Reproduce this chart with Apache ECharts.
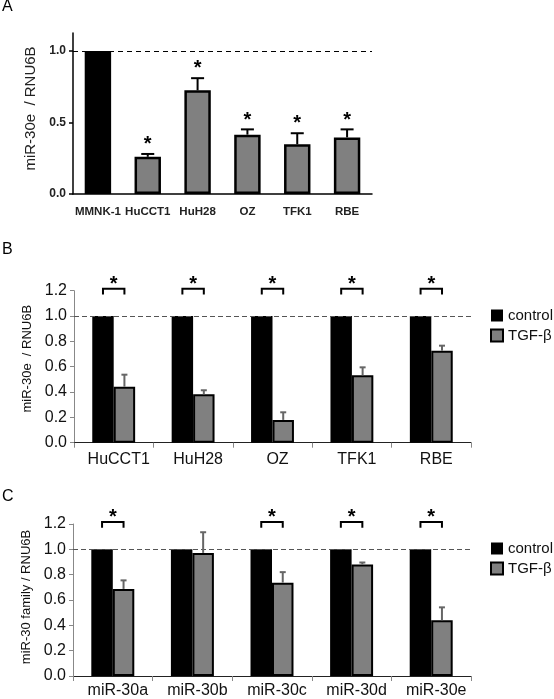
<!DOCTYPE html>
<html>
<head>
<meta charset="utf-8">
<script src="https://cdn.jsdelivr.net/npm/echarts@6/dist/echarts.min.js"></script>
<style>
html,body{margin:0;padding:0;background:#fff;}
#main{width:554px;height:699px;}
</style>
</head>
<body>
<div id="main"></div>
<script>
// ---------- data ----------
const catsA = ['MMNK-1', 'HuCCT1', 'HuH28', 'OZ', 'TFK1', 'RBE'];
const valsA = [1.0, 0.26, 0.725, 0.415, 0.348, 0.396];
const errTopA = [1.0, 0.28, 0.81, 0.452, 0.425, 0.452];
const sigA = [0, 1, 1, 1, 1, 1];
const ticksA = [0, 0.5, 1.0];

const catsB = ['HuCCT1', 'HuH28', 'OZ', 'TFK1', 'RBE'];
const ctrlB = [1.0, 1.0, 1.0, 1.0, 1.0];
const tgfB = [0.442, 0.382, 0.18, 0.532, 0.726];
const tgfErrTopB = [0.537, 0.414, 0.24, 0.595, 0.766];
const sigB = [1, 1, 1, 1, 1];

const catsC = ['miR-30a', 'miR-30b', 'miR-30c', 'miR-30d', 'miR-30e'];
const ctrlC = [1.0, 1.0, 1.0, 1.0, 1.0];
const tgfC = [0.6875, 0.972, 0.737, 0.88, 0.44];
const tgfErrTopC = [0.755, 1.135, 0.82, 0.896, 0.542];
const sigC = [1, 0, 1, 1, 1];

const seriesNames = ['control', 'TGF-β'];
const titleA = 'miR-30e  / RNU6B';
const titleB = 'miR-30e  / RNU6B';
const titleC = 'miR-30 family / RNU6B';

// ---------- styling ----------
const FONT = 'Liberation Sans, Arial, sans-serif';
const GRAY = '#808080';
const BAR_FRAC = 0.27;

function errRender(shiftFrac, cap, color, lw) {
  return function (params, api) {
    const i = api.value(0);
    const p0 = api.coord([i, api.value(1)]);
    const p1 = api.coord([i, api.value(2)]);
    const band = api.size([1, 0])[0];
    const x = p0[0] + band * shiftFrac;
    return {
      type: 'group',
      children: [
        {type: 'line', shape: {x1: x, y1: p0[1], x2: x, y2: p1[1]}, style: {stroke: color, lineWidth: lw}},
        {type: 'line', shape: {x1: x - cap / 2, y1: p1[1], x2: x + cap / 2, y2: p1[1]}, style: {stroke: color, lineWidth: lw}}
      ]
    };
  };
}

function starRender(params, api) {
  const i = api.value(0);
  const p = api.coord([i, api.value(1) + 0.1]);
  return {
    type: 'text',
    style: {text: '*', x: p[0], y: p[1] + 5, align: 'center', verticalAlign: 'middle',
            font: 'bold 20px ' + FONT, fill: '#000'}
  };
}

function bracketRender(params, api) {
  const i = api.value(0);
  const top = api.coord([i, 1.215]);
  const leg = api.coord([i, 1.17]);
  const star = api.coord([i, 1.29]);
  const band = api.size([1, 0])[0];
  const off = band * BAR_FRAC / 2;
  const x1 = top[0] - off, x2 = top[0] + off;
  return {
    type: 'group',
    children: [
      {type: 'polyline', shape: {points: [[x1, leg[1]], [x1, top[1]], [x2, top[1]], [x2, leg[1]]]},
       style: {stroke: '#000', lineWidth: 2, fill: null}},
      {type: 'text', style: {text: '*', x: top[0], y: star[1] + 5, align: 'center', verticalAlign: 'middle',
       font: 'bold 20px ' + FONT, fill: '#000'}}
    ]
  };
}

function lowerAxes(gi, cats, labelMargin) {
  return {
    type: 'category', gridIndex: gi, data: cats,
    axisLine: {lineStyle: {color: '#222', width: 1}},
    axisTick: {show: true, alignWithLabel: false, length: 5, lineStyle: {color: '#888'}},
    axisLabel: {interval: 0, fontSize: 16, fontFamily: FONT, color: '#111', margin: labelMargin, padding: [0, 0, 0, 10]}
  };
}
function lowerY(gi, name, shift) {
  return {
    type: 'value', gridIndex: gi, min: 0, max: 1.2, interval: 0.2,
    splitLine: {show: false},
    axisLine: {show: true, lineStyle: {color: '#888', width: 1}},
    axisTick: {show: true, length: 4, lineStyle: {color: '#888'}},
    axisLabel: {fontSize: 16, fontFamily: FONT, color: '#111', margin: 7, formatter: v => v.toFixed(1)},
    name: name, nameLocation: 'middle', nameGap: 38,
    nameTextStyle: {fontSize: 13, fontFamily: FONT, color: '#111', padding: [0, 0, 0, shift]}
  };
}

const legendBase = {orient: 'vertical', left: 485, itemWidth: 12, itemHeight: 12, itemGap: 5, icon: 'rect',
  data: seriesNames, textStyle: {fontSize: 15, fontFamily: FONT, color: '#111'}};

const option = {
  animation: false,
  backgroundColor: '#fff',
  title: [
    {text: 'A', left: 2, top: -1, padding: 0, textStyle: {fontSize: 16, fontWeight: 'normal', fontFamily: FONT, color: '#000'}},
    {text: 'B', left: 2, top: 242, padding: 0, textStyle: {fontSize: 16, fontWeight: 'normal', fontFamily: FONT, color: '#000'}},
    {text: 'C', left: 2, top: 489, padding: 0, textStyle: {fontSize: 16, fontWeight: 'normal', fontFamily: FONT, color: '#000'}}
  ],
  legend: [
    Object.assign({}, legendBase, {top: 303}),
    Object.assign({}, legendBase, {top: 536})
  ],
  grid: [
    {left: 73, top: 33, width: 299, height: 161},
    {left: 74, top: 290.7, width: 397, height: 152},
    {left: 73, top: 524, width: 398, height: 153.7}
  ],
  xAxis: [
    {
      type: 'category', gridIndex: 0, data: catsA,
      axisLine: {lineStyle: {color: '#000', width: 1.5}},
      axisTick: {show: false},
      axisLabel: {interval: 0, fontSize: 11.5, fontWeight: 'bold', fontFamily: FONT, color: '#222', margin: 12}
    },
    lowerAxes(1, catsB, 9),
    lowerAxes(2, catsC, 7)
  ],
  yAxis: [
    {
      type: 'value', gridIndex: 0, min: 0, max: 1.126, interval: 0.5,
      splitLine: {show: false},
      axisLine: {show: true, lineStyle: {color: '#000', width: 1.5}},
      axisTick: {show: true, length: 4, lineStyle: {color: '#000', width: 1.5}, customValues: ticksA},
      axisLabel: {customValues: ticksA, fontSize: 12, fontWeight: 'bold', fontFamily: FONT, color: '#222', margin: 7,
                  formatter: v => v.toFixed(1)},
      name: titleA, nameLocation: 'middle', nameGap: 33,
      nameTextStyle: {fontSize: 15, fontFamily: FONT, color: '#222', padding: [0, 0, 0, 10]}
    },
    lowerY(1, titleB, 16),
    lowerY(2, titleC, 6)
  ],
  series: [
    // Panel A
    {
      type: 'bar', xAxisIndex: 0, yAxisIndex: 0, barWidth: '53%',
      data: valsA.map((v, i) => ({value: v, itemStyle: {color: sigA[i] ? GRAY : '#000'}})),
      itemStyle: {borderColor: '#000', borderWidth: 2.5},
      markLine: {silent: true, symbol: 'none', label: {show: false},
                 lineStyle: {type: [5, 4], color: '#000', width: 1}, data: [{yAxis: 1}]}
    },
    {
      type: 'custom', xAxisIndex: 0, yAxisIndex: 0, z: 5,
      renderItem: errRender(0, 13, '#000', 2),
      data: valsA.map((v, i) => [i, v, errTopA[i]]).filter((d, i) => sigA[i])
    },
    {
      type: 'custom', xAxisIndex: 0, yAxisIndex: 0, z: 5,
      renderItem: starRender,
      data: errTopA.map((v, i) => [i, v]).filter((d, i) => sigA[i])
    },
    // Panel B
    {
      name: seriesNames[0], type: 'bar', xAxisIndex: 1, yAxisIndex: 1, barWidth: (BAR_FRAC * 100) + '%', barGap: '0%',
      data: ctrlB, itemStyle: {color: '#000'},
      markLine: {silent: true, symbol: 'none', label: {show: false},
                 lineStyle: {type: [5, 3], color: '#555', width: 1.2}, data: [{yAxis: 1}]}
    },
    {
      name: seriesNames[1], type: 'bar', xAxisIndex: 1, yAxisIndex: 1, barWidth: (BAR_FRAC * 100) + '%', barGap: '0%',
      data: tgfB, itemStyle: {color: GRAY, borderColor: '#000', borderWidth: 2}
    },
    {
      type: 'custom', xAxisIndex: 1, yAxisIndex: 1, z: 5,
      renderItem: errRender(BAR_FRAC / 2, 6, '#666', 2),
      data: tgfB.map((v, i) => [i, v, tgfErrTopB[i]])
    },
    {
      type: 'custom', xAxisIndex: 1, yAxisIndex: 1, z: 5,
      renderItem: bracketRender,
      data: sigB.map((s, i) => [i, s]).filter(d => d[1])
    },
    // Panel C
    {
      name: seriesNames[0], type: 'bar', xAxisIndex: 2, yAxisIndex: 2, barWidth: (BAR_FRAC * 100) + '%', barGap: '0%',
      data: ctrlC, itemStyle: {color: '#000'},
      markLine: {silent: true, symbol: 'none', label: {show: false},
                 lineStyle: {type: [5, 3], color: '#555', width: 1.2}, data: [{yAxis: 1}]}
    },
    {
      name: seriesNames[1], type: 'bar', xAxisIndex: 2, yAxisIndex: 2, barWidth: (BAR_FRAC * 100) + '%', barGap: '0%',
      data: tgfC, itemStyle: {color: GRAY, borderColor: '#000', borderWidth: 2}
    },
    {
      type: 'custom', xAxisIndex: 2, yAxisIndex: 2, z: 5,
      renderItem: errRender(BAR_FRAC / 2, 6, '#666', 2),
      data: tgfC.map((v, i) => [i, v, tgfErrTopC[i]])
    },
    {
      type: 'custom', xAxisIndex: 2, yAxisIndex: 2, z: 5,
      renderItem: bracketRender,
      data: sigC.map((s, i) => [i, s]).filter(d => d[1])
    }
  ]
};

const chart = echarts.init(document.getElementById('main'), null, {renderer: 'canvas'});
chart.setOption(option);
</script>
</body>
</html>
